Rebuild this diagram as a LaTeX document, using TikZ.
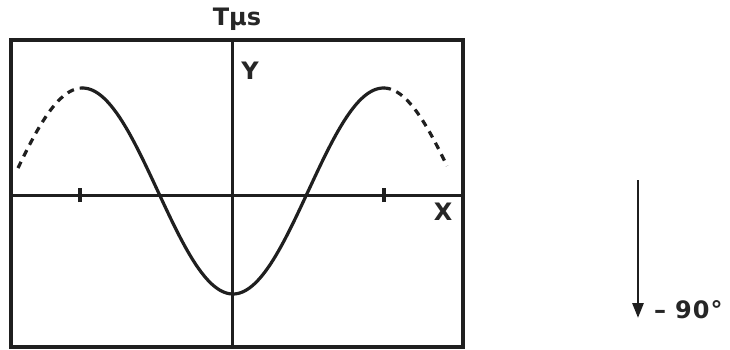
\documentclass[tikz,border=0pt]{standalone}
\usepackage{fontspec}
\setmainfont{DejaVu Sans}
\usetikzlibrary{arrows.meta}
\begin{document}
\begin{tikzpicture}[x=1pt,y=-1pt,
  frame/.style={line width=3.4pt,line join=miter,draw=black!88},
  axisline/.style={line width=3pt,draw=black!88},
  wave/.style={line width=3.2pt,line cap=round,draw=black!88},
  dashwave/.style={line width=3.2pt,dash pattern=on 7pt off 6pt,draw=black!88},
  lbl/.style={font=\fontsize{24}{28}\selectfont\bfseries,inner sep=0pt,text=black!85},
  tickmark/.style={line width=3.6pt,draw=black!88}]
\useasboundingbox (0,0) rectangle (730,349);
% frame
\coordinate (tl) at (11,40);
\coordinate (br) at (463,347);
\draw[frame] (tl) rectangle (br);
% axes
\coordinate (yt) at (232,40);
\coordinate (yb) at (232,347);
\coordinate (xl) at (11,195);
\coordinate (xr) at (463,195);
\draw[axisline] (yt) -- (yb);
\draw[axisline] (xl) -- (xr);
% ticks
\coordinate (t1) at (80,195);
\coordinate (t2) at (384,195);
\draw[tickmark] ([yshift=-7pt]t1) -- ([yshift=7pt]t1);
\draw[tickmark] ([yshift=-7pt]t2) -- ([yshift=7pt]t2);
% wave
\draw[wave] plot[domain=83:384,samples=120,smooth] (\x,{191+103*cos(1.196*(\x-233))});
\draw[dashwave] plot[domain=18:83,samples=40,smooth] (\x,{191+103*cos(1.196*(\x-233))});
\draw[dashwave] plot[domain=384:447,samples=40,smooth] (\x,{191+103*cos(1.196*(\x-233))});
% labels
\node[lbl,anchor=base] (tmu) at (237,25) {Tμs};
\node[lbl,anchor=base] (ylab) at (250,79) {Y};
\node[lbl,anchor=base] (xlab) at (443,220) {X};
% arrow
\coordinate (a1) at (638,180);
\coordinate (a2) at (638,318);
\draw[line width=2.8pt,draw=black!88,-{Triangle[length=15pt,width=11pt]}] (a1) -- (a2);
\node[lbl,anchor=base west] (deg) at (654,318) {–\hspace{9pt}9\hspace{1pt}0\hspace{1pt}°};
\end{tikzpicture}
\end{document}
